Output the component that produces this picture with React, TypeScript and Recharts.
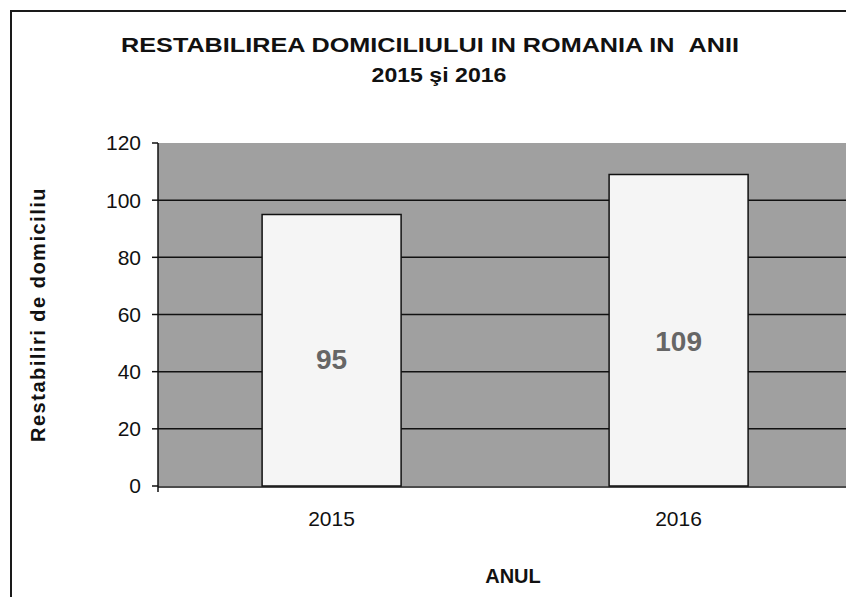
import React from 'react';
import {
  BarChart,
  Bar,
  XAxis,
  YAxis,
  CartesianGrid,
  LabelList,
  Label,
  ReferenceArea,
} from 'recharts';

const years = ['2015', '2016'];
const restabiliri = [95, 109];
const yTicks = [0, 20, 40, 60, 80, 100, 120];
const gridLines = [20, 40, 60, 80, 100];
const boundaryTicks = [0, 1, 2];

const data = years.map((an, i) => ({ an, value: restabiliri[i] }));

const FONT = '"Liberation Sans", Arial, sans-serif';

const renderValue = (props: any) => {
  const { viewBox, value } = props;
  const cx = viewBox.x + viewBox.width / 2;
  const cy = viewBox.y + viewBox.height * 0.535;
  return (
    <text
      x={cx}
      y={cy}
      textAnchor="middle"
      dominantBaseline="central"
      fill="#666666"
      fontFamily={FONT}
      fontWeight="bold"
      fontSize={28}
    >
      {value}
    </text>
  );
};

const titleStyle: React.CSSProperties = {
  position: 'absolute',
  width: 844,
  lineHeight: '22px',
  fontFamily: FONT,
  fontWeight: 'bold',
  fontSize: 21,
  textAlign: 'center',
  whiteSpace: 'nowrap',
  transformOrigin: 'center',
  color: '#111',
};

const App: React.FC = () => {
  return (
    <div style={{ position: 'relative', width: 846, height: 589, overflow: 'hidden', background: '#fff' }}>
      <div
        style={{
          position: 'absolute',
          left: 2,
          top: 2,
          width: 1000,
          height: 1000,
          border: '2px solid #1a1a1a',
          boxSizing: 'border-box',
        }}
      />
      <div style={{ ...titleStyle, left: 0, top: 26, transform: 'scaleX(1.2)' }}>
        RESTABILIREA DOMICILIULUI IN ROMANIA IN&nbsp;&nbsp;ANII
      </div>
      <div style={{ ...titleStyle, left: 9, top: 56, transform: 'scaleX(1.1)' }}>2015 şi 2016</div>
      <div style={{ position: 'absolute', left: 0, top: 0 }}>
        <BarChart
          width={846}
          height={589}
          data={data}
          margin={{ top: 135, right: 2, left: 10, bottom: 10 }}
          barCategoryGap="30%"
        >
          <CartesianGrid
            xAxisId="cat"
            vertical={false}
            horizontalValues={gridLines}
            fill="#a0a0a0"
            fillOpacity={1}
            stroke="#111"
            strokeWidth={1.5}
            strokeDasharray=""
          />
          <XAxis
            xAxisId="cat"
            dataKey="an"
            height={100}
            tickLine={false}
            tickSize={6}
            tickMargin={18}
            axisLine={{ stroke: '#111', strokeWidth: 1.5 }}
            tick={{ fill: '#111', fontFamily: FONT, fontSize: 21 }}
          >
            <Label
              value="ANUL"
              position="insideBottom"
              offset={4}
              dx={8}
              style={{ fontFamily: FONT, fontWeight: 'bold', fontSize: 20, fill: '#111' }}
            />
          </XAxis>
          <XAxis
            xAxisId="agrid"
            type="number"
            domain={[0, 2]}
            ticks={boundaryTicks}
            allowDataOverflow
            height={1}
            tickFormatter={() => ''}
            tickSize={6}
            tickLine={{ stroke: '#111', strokeWidth: 1.5 }}
            axisLine={false}
          />
          <YAxis
            domain={[0, 120]}
            ticks={yTicks}
            width={140}
            tickSize={6}
            tickMargin={11}
            tickLine={{ stroke: '#111', strokeWidth: 1.5 }}
            axisLine={{ stroke: '#111', strokeWidth: 1.5 }}
            tick={{ fill: '#111', fontFamily: FONT, fontSize: 21 }}
          >
            <Label
              value="Restabiliri de domiciliu"
              angle={-90}
              position="insideLeft"
              offset={20}
              style={{
                textAnchor: 'middle',
                fontFamily: FONT,
                fontWeight: 'bold',
                fontSize: 20,
                letterSpacing: 1.5,
                fill: '#111',
              }}
            />
          </YAxis>
          <ReferenceArea
            xAxisId="agrid"
            x1={0}
            x2={2}
            y1={0}
            y2={120}
            fill="none"
            stroke="#808080"
            strokeWidth={2}
          />
          <Bar
            xAxisId="cat"
            dataKey="value"
            fill="#f5f5f5"
            stroke="#111"
            strokeWidth={1.5}
            isAnimationActive={false}
          >
            <LabelList dataKey="value" content={renderValue} />
          </Bar>
        </BarChart>
      </div>
    </div>
  );
};

export default App;
